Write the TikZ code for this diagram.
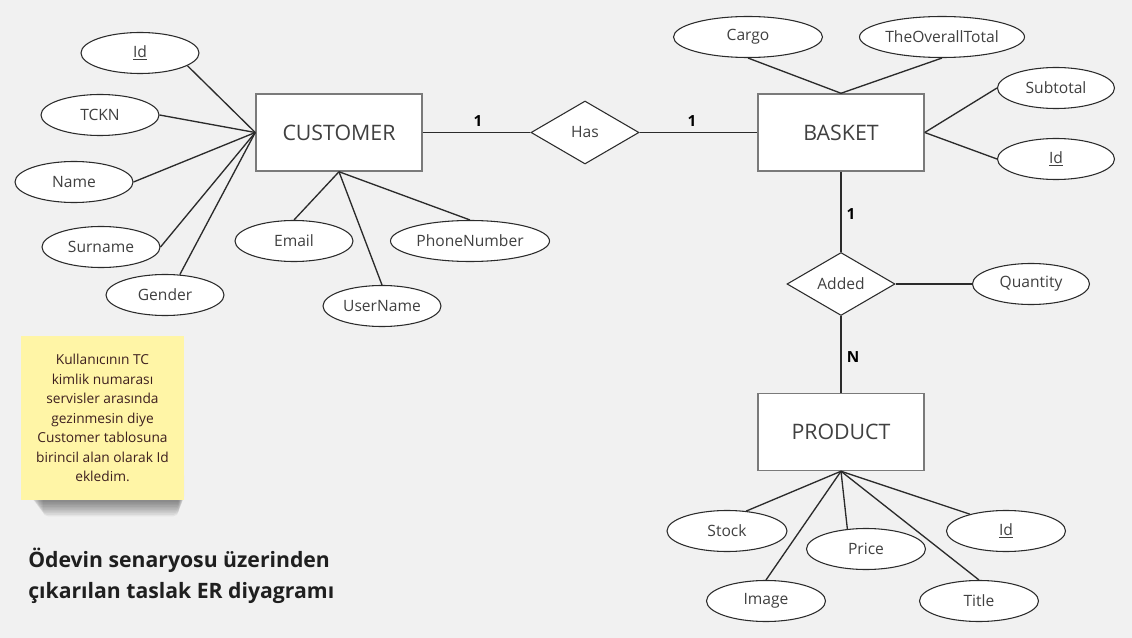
\documentclass[tikz,border=0pt]{standalone}
\usepackage{fontspec}
\setmainfont{Open Sans}
\usepackage{tikz}
\usetikzlibrary{shapes.geometric,positioning}
\definecolor{hgrund}{HTML}{F1F1F1}
\definecolor{linie}{HTML}{2B2B2B}
\definecolor{rahmen}{HTML}{7A7A7A}
\definecolor{schrift}{HTML}{404040}
\definecolor{zettel}{HTML}{FFF5A6}
\tikzset{
  entitaet/.style={draw=rahmen,line width=1.1pt,fill=white,minimum width=124.5pt,minimum height=57.75pt,inner sep=0pt,text=schrift,font=\fontsize{16}{19}\selectfont},
  attribut/.style={ellipse,draw=linie,line width=0.8pt,fill=white,minimum height=30.75pt,inner sep=0pt,text=schrift,font=\fontsize{11.7}{14}\selectfont},
  beziehung/.style={diamond,draw=linie,line width=0.8pt,fill=white,minimum width=81pt,minimum height=47.25pt,inner sep=0pt,text=schrift,font=\fontsize{11.7}{14}\selectfont},
  kard/.style={inner sep=0pt,font=\bfseries\fontsize{11.5}{13}\selectfont},
  verb/.style={draw=linie,line width=1pt}
}

\begin{document}
\begin{tikzpicture}[x=0.75pt,y=-0.75pt]
\fill[hgrund] (0,0) rectangle (1132,638);
\useasboundingbox (0,0) rectangle (1132,638);
%Entitaeten und Beziehungen
\node[entitaet] (customer) at (339,132.5) {CUSTOMER};
\node[entitaet] (basket) at (841,132.5) {BASKET};
\node[entitaet] (product) at (841,432) {PRODUCT};
\node[beziehung] (has) at (585,132.5) {Has};
\node[beziehung] (added) at (841,284) {Added};
\draw[verb] (customer) -- (has);
\draw[verb] (has) -- (basket);
\draw[verb] (basket) -- (added);
\draw[verb] (added) -- (product);
\node[kard] (k1) at (478,121) {1};
\node[kard] (k2) at (692,121) {1};
\node[kard] (k3) at (851,214) {1};
\node[kard] (k4) at (853,357) {N};
%Attribute: Name/x/y/Breite/Winkel/Text
\foreach \n/\x/\y/\b/\a/\t in {cid/140/53/118/-15.5/{\underline{Id}},ctckn/100/115/118/0/TCKN,cname/74/182/118/0/Name,csurname/101/247/118/0/Surname,cgender/165/295/118/54.5/Gender}{
  \node[attribut,minimum width=\b*0.75pt] (\n) at (\x,\y) {\t};
  \draw[verb] (customer.west) -- (\n.\a);
}
\foreach \n/\x/\y/\b/\a/\t in {cemail/294/241/118/90/Email,cuser/382/306/118/90/UserName,cphone/470/241/159/90/PhoneNumber}{
  \node[attribut,minimum width=\b*0.75pt] (\n) at (\x,\y) {\t};
  \draw[verb] (customer.south) -- (\n.\a);
}
\foreach \n/\x/\y/\b/\a/\t in {bcargo/748/37/149/270/Cargo,btotal/942/37/165/270/TheOverallTotal}{
  \node[attribut,minimum width=\b*0.75pt] (\n) at (\x,\y) {\t};
  \draw[verb] (basket.north) -- (\n.\a);
}
\foreach \n/\x/\y/\b/\a/\t in {bsub/1056/88/117/180/Subtotal,bid/1056/159/117/180/{\underline{Id}}}{
  \node[attribut,minimum width=\b*0.75pt] (\n) at (\x,\y) {\t};
  \draw[verb] (basket.east) -- (\n.\a);
}
\foreach \n/\x/\y/\b/\a/\t in {pstock/727/531/120/46/Stock,pimage/766/601/119/90/Image,pprice/866/549/119/133/Price,ptitle/979/601/119/90/Title,pid/1006/531/119/155/{\underline{Id}}}{
  \node[attribut,minimum width=\b*0.75pt] (\n) at (\x,\y) {\t};
  \draw[verb] (product.south) -- (\n.\a);
}
\node[attribut,minimum width=117*0.75pt] (quantity) at (1031,284) {Quantity};
\draw[verb] (added.east) -- (quantity.west);
%Notizzettel mit Schatten
\foreach \i in {0,...,9}{
  \fill[black,opacity=0.05,rounded corners=4pt] (32+\i*1.2,470) rectangle (184-\i*0.6,502+\i*1.6);
}
\node[fill=zettel,minimum width=122.25pt,minimum height=123pt,inner sep=0pt,align=center,text=schrift!80!red!60!black,font=\fontsize{10.3}{14.6}\selectfont] (notiz) at (102.5,418) {Kullanıcının TC\\kimlik numarası\\servisler arasında\\gezinmesin diye\\Customer tablosuna\\birincil alan olarak Id\\ekledim.};
\node[anchor=north west,align=left,inner sep=0pt,text=black!88,font=\bfseries\fontsize{15.9}{23}\selectfont] (titel) at (28,548) {Ödevin senaryosu üzerinden\\çıkarılan taslak ER diyagramı};
\end{tikzpicture}
\end{document}
